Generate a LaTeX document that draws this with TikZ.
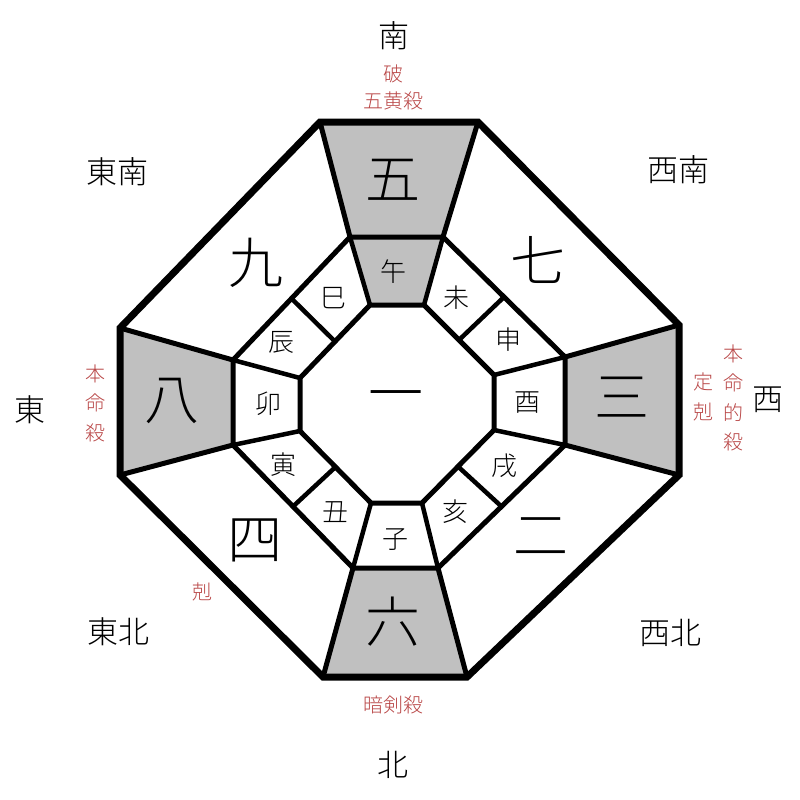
\documentclass[tikz,border=0pt]{standalone}
\usepackage{fontspec}
\IfFontExistsTF{Noto Sans CJK JP Light}{\setmainfont{Noto Sans CJK JP Light}}{\setmainfont{Noto Sans CJK JP}}
\usetikzlibrary{calc}
\definecolor{cellgray}{RGB}{192,192,192}
\definecolor{redtext}{RGB}{185,70,70}
\tikzset{
  outerline/.style={line width=7pt, line join=miter},
  innerline/.style={line width=5pt, line join=miter},
  divline/.style={line width=4.5pt},
  bignum/.style={font=\fontsize{55}{55}\selectfont},
  branch/.style={font=\fontsize{26}{26}\selectfont},
  dirlabel/.style={font=\fontsize{31}{31}\selectfont},
  redlabel/.style={text=redtext, align=center, font=\fontsize{20}{29.5}\selectfont, inner sep=0pt},
}
\begin{document}
\begin{tikzpicture}[x=1pt,y=-1pt]
\useasboundingbox (0,0) rectangle (800,800);
\fill[white] (0,0) rectangle (800,800);
% outer octagon
\coordinate (O1) at (320,122); \coordinate (O2) at (478,122);
\coordinate (O3) at (679,325); \coordinate (O4) at (679,475);
\coordinate (O5) at (467,677); \coordinate (O6) at (323,677);
\coordinate (O7) at (120,475); \coordinate (O8) at (120,328);
% middle octagon
\coordinate (M1) at (350,237); \coordinate (M2) at (443,237);
\coordinate (M3) at (565,357); \coordinate (M4) at (565,445);
\coordinate (M5) at (438,568); \coordinate (M6) at (353,568);
\coordinate (M7) at (233,445); \coordinate (M8) at (233,360);
% inner octagon
\coordinate (I1) at (370,305); \coordinate (I2) at (424,305);
\coordinate (I3) at (494,375); \coordinate (I4) at (494,430);
\coordinate (I5) at (422,503); \coordinate (I6) at (371,503);
\coordinate (I7) at (300,431); \coordinate (I8) at (300,378);
% diagonal midpoints
\coordinate (MA) at ($(M8)!0.5!(M1)$); \coordinate (IA) at ($(I8)!0.5!(I1)$);
\coordinate (MB) at ($(M2)!0.5!(M3)$); \coordinate (IB) at ($(I2)!0.5!(I3)$);
\coordinate (MC) at ($(M4)!0.5!(M5)$); \coordinate (IC) at ($(I4)!0.5!(I5)$);
\coordinate (MD) at ($(M6)!0.5!(M7)$); \coordinate (ID) at ($(I6)!0.5!(I7)$);
% shaded cells
\fill[cellgray] (O1) -- (O2) -- (M2) -- (M1) -- cycle;
\fill[cellgray] (M1) -- (M2) -- (I2) -- (I1) -- cycle;
\fill[cellgray] (O8) -- (M8) -- (M7) -- (O7) -- cycle;
\fill[cellgray] (O3) -- (O4) -- (M4) -- (M3) -- cycle;
\fill[cellgray] (M6) -- (M5) -- (O5) -- (O6) -- cycle;
% spokes outer-middle
\foreach \k in {1,...,8} { \draw[innerline] (O\k) -- (M\k); }
% spokes middle-inner
\foreach \k in {1,...,8} { \draw[divline] (M\k) -- (I\k); }
\draw[divline] (MA) -- (IA);
\draw[divline] (MB) -- (IB);
\draw[divline] (MC) -- (IC);
\draw[divline] (MD) -- (ID);
% middle and inner octagons
\draw[innerline] (M1) -- (M2) -- (M3) -- (M4) -- (M5) -- (M6) -- (M7) -- (M8) -- cycle;
\draw[innerline] (I1) -- (I2) -- (I3) -- (I4) -- (I5) -- (I6) -- (I7) -- (I8) -- cycle;
% outer octagon
\draw[outerline] (O1) -- (O2) -- (O3) -- (O4) -- (O5) -- (O6) -- (O7) -- (O8) -- cycle;
% big numbers
\node[bignum] (n5) at (393,180) {五};
\node[bignum] (n9) at (256,263) {九};
\node[bignum] (n7) at (538,260) {七};
\node[bignum] (n8) at (172,401) {八};
\node[bignum] (n3) at (622,397) {三};
\node[bignum] (n1) at (396,402) {一};
\node[bignum] (n4) at (255,540) {四};
\node[bignum] (n2) at (541,537) {二};
\node[bignum] (n6) at (393,622) {六};
% branches
\node[branch] (b1) at (393,272) {午};
\node[branch] (b2) at (456,298) {未};
\node[branch] (b3) at (508,340) {申};
\node[branch] (b4) at (527,403) {酉};
\node[branch] (b5) at (504,466) {戌};
\node[branch] (b6) at (455,512) {亥};
\node[branch] (b7) at (395,540) {子};
\node[branch] (b8) at (335,512) {丑};
\node[branch] (b9) at (283,465) {寅};
\node[branch] (b10) at (268,404) {卯};
\node[branch] (b11) at (281,342) {辰};
\node[branch] (b12) at (333,298) {巳};
% direction labels
\node[dirlabel] (dS) at (394,36) {南};
\node[dirlabel] (dN) at (393,765) {北};
\node[dirlabel] (dE) at (30,410) {東};
\node[dirlabel] (dW) at (768,400) {西};
\node[dirlabel] (dSE) at (117,172) {東南};
\node[dirlabel] (dSW) at (678,170) {西南};
\node[dirlabel] (dNE) at (118,632) {東北};
\node[dirlabel] (dNW) at (670,633) {西北};
% red labels
\node[redlabel] (r1) at (393,74) {破};
\node[redlabel] (r2) at (393,101) {五黄殺};
\node[redlabel] (r3) at (95,403) {本\\命\\殺};
\node[redlabel] (r4) at (703,397) {定\\剋};
\node[redlabel] (r5) at (733,398) {本\\命\\的\\殺};
\node[redlabel] (r6) at (202,592) {剋};
\node[redlabel] (r7) at (393,705) {暗剣殺};
\end{tikzpicture}
\end{document}
